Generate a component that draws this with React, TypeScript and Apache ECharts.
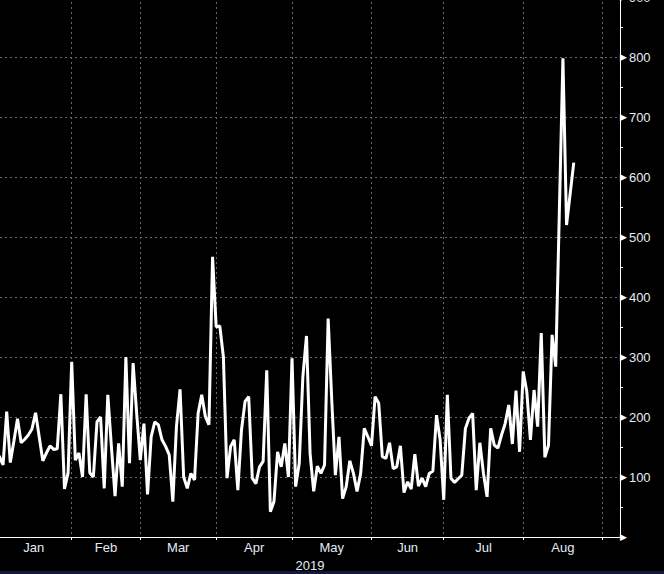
import { useEffect, useRef } from "react";
import * as echarts from "echarts";

// Month names shown under the axis
const monthLabels = ["Jan", "Feb", "Mar", "Apr", "May", "Jun", "Jul", "Aug"];
// Trading-day index (Jan 2 2019 = 0) of the first session of each month, plus Sep
const monthStarts = [0, 21, 40, 61, 82, 104, 124, 146, 168];
const yearLabel = "2019";
// Right axis tick values
const yTicks = [0, 100, 200, 300, 400, 500, 600, 700, 800, 900];
// Daily values, one per trading day starting Jan 2 2019
const values = [
  140, 134, 120, 209, 124, 160, 197, 157, 163, 170,
  180, 207, 167, 127, 140, 152, 146, 147, 238, 80,
  107, 292, 128, 140, 100, 238, 107, 100, 192, 200,
  81, 237, 150, 68, 156, 84, 300, 123, 290, 205,
  128, 189, 71, 167, 192, 187, 162, 151, 137, 59,
  184, 246, 100, 81, 106, 95, 206, 237, 201, 187,
  467, 350, 352, 300, 98, 151, 162, 78, 178, 226,
  234, 98, 89, 117, 126, 278, 42, 59, 142, 117,
  156, 100, 298, 84, 123, 267, 335, 139, 76, 118,
  106, 120, 364, 228, 103, 167, 64, 84, 127, 106,
  76, 106, 181, 167, 152, 234, 223, 134, 131, 157,
  114, 117, 152, 74, 92, 80, 138, 85, 98, 84,
  106, 110, 203, 162, 62, 237, 98, 91, 97, 103,
  181, 198, 206, 78, 157, 106, 67, 181, 153, 148,
  170, 189, 220, 155, 244, 142, 276, 242, 162, 245,
  184, 340, 133, 153, 337, 284, 540, 798, 520, 572,
  624,
];

export default function App() {
  const ref = useRef<HTMLDivElement>(null);

  useEffect(() => {
    document.body.style.margin = "0";
    const chart = echarts.init(ref.current!, null, { renderer: "svg" });
    const labelPos = monthLabels.map((_, i) => (monthStarts[i] + monthStarts[i + 1]) / 2);
    const textColor = "#e4ebf5";
    const font = "Liberation Sans";
    const gridColor = "#6a6a6a";

    chart.setOption({
      animation: false,
      backgroundColor: "#000000",
      grid: {
        left: 0,
        right: 44,
        top: -3,
        bottom: 37,
        containLabel: false,
        outerBoundsMode: "none",
      },
      xAxis: {
        type: "value",
        min: 1.15,
        max: 172.8,
        name: yearLabel,
        nameLocation: "middle",
        nameGap: 19,
        nameTextStyle: { color: textColor, fontFamily: font, fontSize: 13 },
        axisLine: { show: true, onZero: false, lineStyle: { color: "#ffffff", width: 1 } },
        axisTick: {
          show: true,
          length: 3,
          customValues: monthStarts.slice(1),
          lineStyle: { color: "#ffffff", width: 1 },
        },
        axisLabel: {
          show: true,
          margin: 4,
          customValues: labelPos,
          color: textColor,
          fontFamily: font,
          fontSize: 13,
          formatter: (v: number) => {
            const i = labelPos.findIndex((p) => Math.abs(p - v) < 0.01);
            return i >= 0 ? monthLabels[i] : "";
          },
        },
        splitLine: {
          show: true,
          lineStyle: { color: gridColor, type: [2, 3], width: 1 },
        },
      },
      yAxis: {
        type: "value",
        position: "right",
        min: yTicks[0],
        max: yTicks[yTicks.length - 1],
        interval: 100,
        axisLine: { show: true, lineStyle: { color: "#ffffff", width: 1 } },
        axisTick: { show: false },
        minorTick: {
          show: true,
          splitNumber: 2,
          length: 3,
          lineStyle: { color: "#ffffff", width: 1 },
        },
        axisLabel: {
          show: true,
          margin: 0,
          formatter: (v: number) => (v === 0 ? "{t|▶}" : "{t|▶}{n|" + v + "}"),
          rich: {
            t: { fontSize: 9, color: "#ffffff", fontFamily: "DejaVu Sans", padding: [0, 2, 0, 0] },
            n: { fontSize: 13, color: textColor, fontFamily: font },
          },
        },
        splitLine: {
          show: true,
          lineStyle: { color: gridColor, type: [2, 3], width: 1 },
        },
      },
      graphic: [
        {
          type: "rect",
          x: 0,
          y: 571,
          shape: { width: 664, height: 3 },
          style: { fill: "#15183c" },
          silent: true,
        },
      ],
      series: [
        {
          type: "line",
          data: values.map((v, i) => [i, v]),
          showSymbol: false,
          symbol: "none",
          lineStyle: { color: "#ffffff", width: 3 },
          clip: true,
        },
      ],
    });

    return () => chart.dispose();
  }, []);

  return <div ref={ref} style={{ width: 664, height: 574 }} />;
}
